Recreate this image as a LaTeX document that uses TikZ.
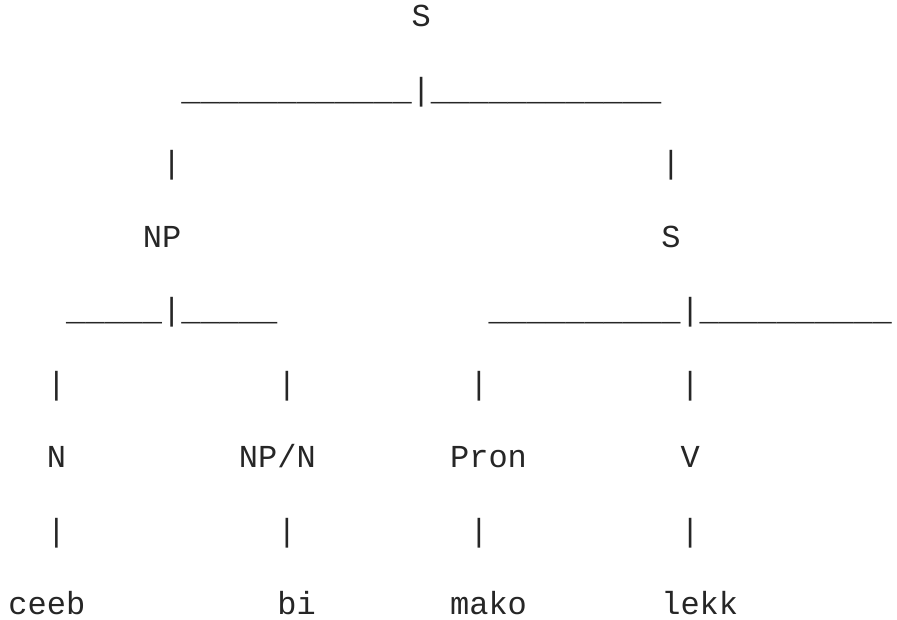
\documentclass[tikz,border=0pt]{standalone}
\usepackage{fontspec}
\setmonofont{Liberation Mono}
\begin{document}
\begin{tikzpicture}[x=1pt,y=1pt,
  glyphs/.style={anchor=base west,inner sep=0pt,outer sep=0pt,
    font=\ttfamily\fontsize{32}{32}\selectfont,text=black!85}]
\fill[white] (0,0) rectangle (897,620);
\useasboundingbox (0,0) rectangle (897,620);
% place a monospace token at column #2, text row #3
\newcommand\asciiat[4]{\node[glyphs] (#1) at ({8.5+19.2*#2},{620-26.7-73.5*#3}) {#4};}
% row 0
\asciiat{root}{21}{0}{S}
% row 1
\asciiat{rootbar}{9}{1}{\_\_\_\_\_\_\_\_\_\_\_\_|\_\_\_\_\_\_\_\_\_\_\_\_}
% row 2
\asciiat{stemnp}{8}{2}{|}
\asciiat{stems}{34}{2}{|}
% row 3
\asciiat{np}{7}{3}{NP}
\asciiat{s}{34}{3}{S}
% row 4
\asciiat{npbar}{3}{4}{\_\_\_\_\_|\_\_\_\_\_}
\asciiat{sbar}{25}{4}{\_\_\_\_\_\_\_\_\_\_|\_\_\_\_\_\_\_\_\_\_}
% row 5
\asciiat{stemn}{2}{5}{|}
\asciiat{stemnpn}{14}{5}{|}
\asciiat{stempron}{24}{5}{|}
\asciiat{stemv}{35}{5}{|}
% row 6
\asciiat{n}{2}{6}{N}
\asciiat{npn}{12}{6}{NP/N}
\asciiat{pron}{23}{6}{Pron}
\asciiat{v}{35}{6}{V}
% row 7
\asciiat{leafn}{2}{7}{|}
\asciiat{leafnpn}{14}{7}{|}
\asciiat{leafpron}{24}{7}{|}
\asciiat{leafv}{35}{7}{|}
% row 8
\asciiat{ceeb}{0}{8}{ceeb}
\asciiat{bi}{14}{8}{bi}
\asciiat{mako}{23}{8}{mako}
\asciiat{lekk}{34}{8}{lekk}
\end{tikzpicture}
\end{document}
